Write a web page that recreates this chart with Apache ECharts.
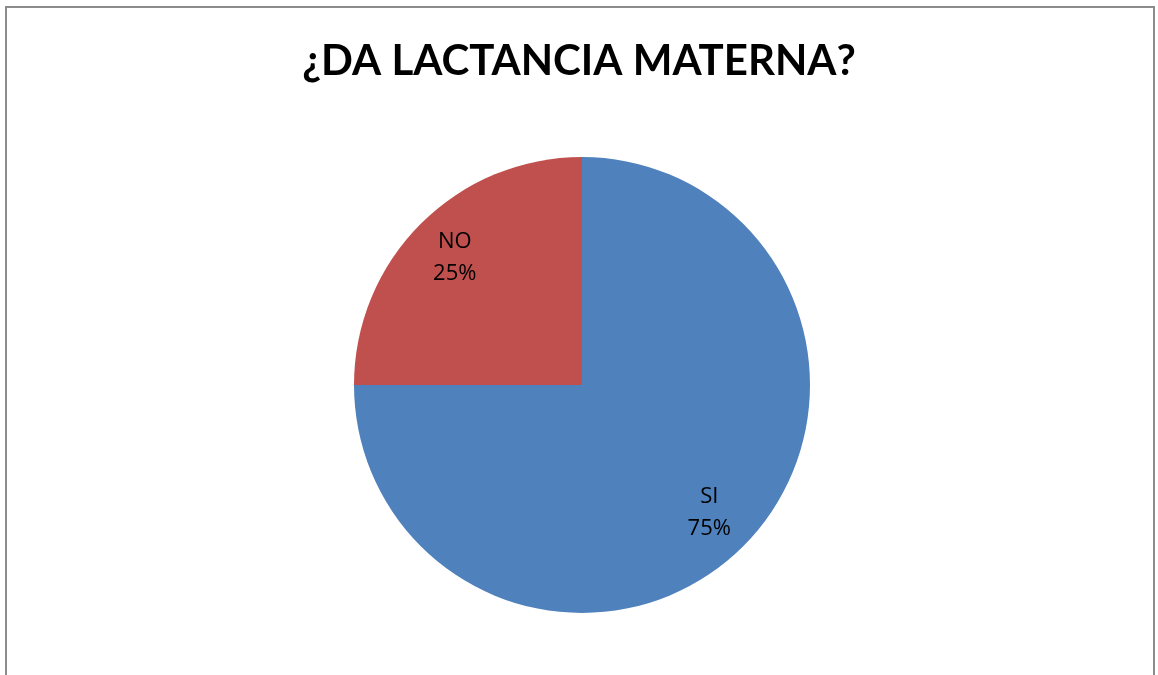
<!DOCTYPE html>
<html>
<head>
<meta charset="utf-8">
<script src="https://cdn.jsdelivr.net/npm/echarts@6/dist/echarts.min.js"></script>
<style>
html,body{margin:0;padding:0;background:#fff;overflow:hidden;}
#frame{position:absolute;left:5px;top:6px;width:1150px;height:700px;border:2px solid #8c8c8c;box-sizing:border-box;}
#chart{position:absolute;left:0;top:0;width:1158px;height:675px;}
</style>
</head>
<body>
<div id="frame"></div>
<div id="chart"></div>
<script>
const titleText = '¿DA LACTANCIA MATERNA?';
const categories = ['SI', 'NO'];
const values = [75, 25];
const colors = ['#4F81BD', '#C0504D'];

const data = categories.map((c, i) => ({ name: c, value: values[i], itemStyle: { color: colors[i] } }));
const labelData = categories.map((c, i) => ({ name: c, value: values[i] }));

const chart = echarts.init(document.getElementById('chart'), null, { renderer: 'canvas' });
chart.setOption({
  animation: false,
  title: {
    text: titleText,
    left: 'center',
    top: 35,
    textStyle: { fontFamily: 'Lato', fontWeight: 'bold', fontSize: 42, color: '#000' }
  },
  series: [
    {
      type: 'pie',
      center: [582, 385],
      radius: [0, 228],
      startAngle: 90,
      clockwise: true,
      label: { show: false },
      labelLine: { show: false },
      emphasis: { disabled: true },
      data: data
    },
    {
      type: 'pie',
      center: [582, 385],
      radius: [126, 228],
      startAngle: 90,
      clockwise: true,
      silent: true,
      itemStyle: { color: 'rgba(0,0,0,0)' },
      label: {
        show: true,
        position: 'inside',
        formatter: '{b}\n{d}%',
        color: '#000',
        fontFamily: 'Open Sans',
        fontSize: 22,
        lineHeight: 32
      },
      labelLine: { show: false },
      emphasis: { disabled: true },
      data: labelData
    }
  ]
});
</script>
</body>
</html>
